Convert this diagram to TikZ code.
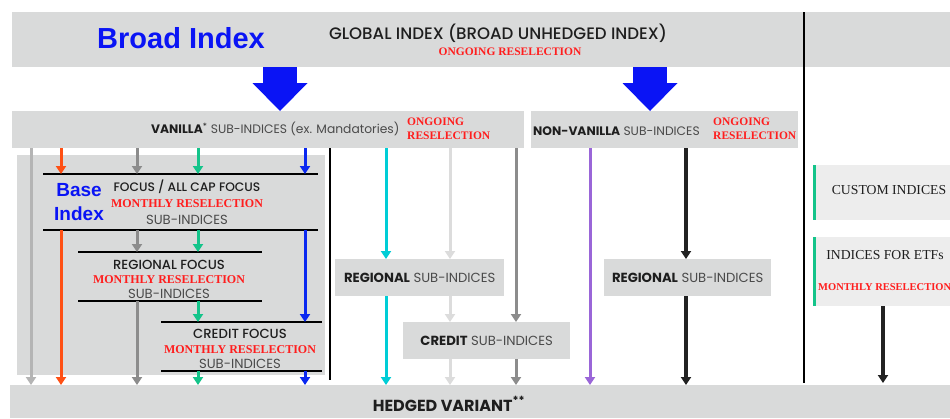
\documentclass[tikz,border=0pt]{standalone}
\usepackage{fontspec}
\setmainfont{Liberation Serif}
\setsansfont{Poppins}
\newfontfamily\arialfont{Liberation Sans}
\newfontfamily\medfont{Poppins Medium}
\usetikzlibrary{positioning,arrows.meta,calc}

\definecolor{bandgray}{HTML}{D9DADA}
\definecolor{lightbox}{HTML}{EDEDED}
\definecolor{selred}{HTML}{FF1E1E}
\definecolor{idxblue}{HTML}{0A14F5}
\definecolor{inkblack}{HTML}{1E1E1E}
\definecolor{inkgray}{HTML}{4A4A4A}
\definecolor{arrorange}{HTML}{FF5014}
\definecolor{arrgreen}{HTML}{14C48A}
\definecolor{arrblue}{HTML}{0A28F0}
\definecolor{arrcyan}{HTML}{00CDD6}
\definecolor{arrpurple}{HTML}{9A66D8}
\definecolor{midgray}{HTML}{8C8C8C}
\definecolor{palegray}{HTML}{B4B4B4}
\definecolor{whitegray}{HTML}{DCDCDC}
\definecolor{darkline}{HTML}{222222}

\newcommand{\monthlyresel}{{\rmfamily\bfseries\fontsize{12}{14}\selectfont\color{selred}MONTHLY RESELECTION}}
\newcommand{\subidx}{\textcolor{inkgray}{SUB-INDICES}}

\tikzset{
  band/.style={fill=bandgray, inner sep=0pt, anchor=north west},
  sidebox/.style={fill=lightbox, inner sep=0pt, anchor=north west},
  frame/.style={inner sep=0pt, anchor=north west},
  rule/.style={line width=2pt, black},
  arr/.style={line width=3pt, -{Triangle[length=8pt, width=10pt]}},
  bigarr/.style={idxblue, line width=34pt, -{Triangle[length=28pt, width=55pt, line width=0pt]}},
  sans/.style={font=\sffamily\fontsize{12.3}{15}\selectfont, text=inkblack},
  boxtxt/.style={font=\sffamily\fontsize{13.2}{15}\selectfont, text=inkblack},
  grouptxt/.style={text=inkblack, align=center},
  redtxt/.style={font=\rmfamily\bfseries\fontsize{11.5}{14}\selectfont, text=selred, align=left},
  serifbox/.style={font=\rmfamily\fontsize{13.7}{16}\selectfont, text=inkblack}
}

\begin{document}
\begin{tikzpicture}[x=1pt, y=-1pt]
  \useasboundingbox[fill=white] (0,0) rectangle (950,418);

  % Bands
  \node[band, minimum width=938pt, minimum height=55pt] (global) at (12,12) {};
  \node[band, minimum width=512pt, minimum height=37pt] (vanilla) at (12,111) {};
  \node[band, minimum width=267pt, minimum height=37pt] (nonvan) at (531,111) {};
  \node[band, minimum width=308pt, minimum height=220pt] (base) at (17,155) {};
  \node[band, minimum width=940pt, minimum height=33pt] (hedged) at (10,385) {};

  % Global index text
  \node[font=\arialfont\bfseries\fontsize{29}{30}\selectfont, text=idxblue] (broadlbl) at (181,38) {Broad Index};
  \node[font=\medfont\fontsize{16.6}{18}\selectfont, text=inkblack] (globaltxt) at (498,33) {GLOBAL INDEX (BROAD UNHEDGED INDEX)};
  \node[redtxt] (globalresel) at (510,52) {ONGOING RESELECTION};

  % Big arrows
  \coordinate (bigA) at (280,0);
  \coordinate (bigB) at (650,0);
  \draw[bigarr] (global.south -| bigA) -- (vanilla.north -| bigA);
  \draw[bigarr] (global.south -| bigB) -- (nonvan.north -| bigB);

  % Sub-index bars text
  \node[sans, anchor=east] (vantxt) at (403,129) {\textbf{VANILLA}\textsuperscript{*} \textcolor{inkgray}{SUB-INDICES (ex. Mandatories)}};
  \node[redtxt, anchor=west, inner sep=0pt] (vanresel) at (407,129) {ONGOING\\RESELECTION};
  \node[sans, anchor=west, inner sep=0pt] (nvtxt) at (533,131) {\textbf{NON-VANILLA} \textcolor{inkgray}{SUB-INDICES}};
  \node[redtxt, anchor=west, inner sep=0pt] (nvresel) at (713,129) {ONGOING\\RESELECTION};

  % Dividers
  \coordinate (divR) at (804,0);
  \coordinate (divM) at (330,0);
  \draw[line width=2pt, black] (global.north -| divR) -- ($(hedged.north -| divR)+(0,-2)$);
  \draw[line width=1.5pt, black] (vanilla.south -| divM) -- ($(hedged.north -| divM)+(0,-5)$);

  % Base index groups
  \node[frame, minimum width=275pt, minimum height=56pt] (focus) at (43,174) {};
  \node[frame, minimum width=184pt, minimum height=49pt] (regfocus) at (78,252) {};
  \node[frame, minimum width=161pt, minimum height=49pt] (credfocus) at (161,322) {};
  \foreach \g in {focus, regfocus, credfocus} {
    \draw[rule] (\g.north west) -- (\g.north east);
    \draw[rule] (\g.south west) -- (\g.south east);
  }
  \node[grouptxt, font=\sffamily\fontsize{13.2}{16.5}\selectfont] (focustxt) at (187,202) {{\medfont\fontsize{12.3}{16.5}\selectfont FOCUS / ALL CAP FOCUS}\\ \monthlyresel\\ \subidx};
  \node[grouptxt, font=\sffamily\fontsize{13.2}{14.5}\selectfont] (regfocustxt) at (169,279) {{\medfont REGIONAL FOCUS}\\ \monthlyresel\\ \subidx};
  \node[grouptxt, font=\sffamily\fontsize{13.2}{15}\selectfont] (credfocustxt) at (240,349) {{\medfont CREDIT FOCUS}\\ \monthlyresel\\ \subidx};
  \node[font=\arialfont\bfseries\fontsize{19}{24}\selectfont, text=idxblue, align=center] (baselbl) at (79,202) {Base\\Index};

  % Middle and right boxes
  \node[band, minimum width=169pt, minimum height=37pt, boxtxt] (regmid) at (335,259) {\textbf{REGIONAL} \textcolor{inkgray}{SUB-INDICES}};
  \node[band, minimum width=167pt, minimum height=37pt, boxtxt] (credmid) at (403,322) {\textbf{CREDIT} \textcolor{inkgray}{SUB-INDICES}};
  \node[band, minimum width=167pt, minimum height=37pt, boxtxt] (regnv) at (604,259) {\textbf{REGIONAL} \textcolor{inkgray}{SUB-INDICES}};
  \node[sidebox, minimum width=137pt, minimum height=55pt] (custom) at (813,165) {};
  \node[sidebox, minimum width=137pt, minimum height=69pt] (etfs) at (813,237) {};
  \draw[arrgreen, line width=3pt] ($(custom.north west)+(1.5,0)$) -- ($(custom.south west)+(1.5,0)$);
  \draw[arrgreen, line width=3pt] ($(etfs.north west)+(1.5,0)$) -- ($(etfs.south west)+(1.5,0)$);
  \node[serifbox] (customtxt) at (889,190) {CUSTOM INDICES};
  \node[serifbox] (etfstxt) at (885,255) {INDICES FOR ETFs};
  \node[redtxt, font=\rmfamily\bfseries\fontsize{10.5}{13}\selectfont, anchor=west, inner sep=0pt] (etfsresel) at (818,287) {MONTHLY RESELECTION};

  % Hedged variant
  \node[font=\sffamily\bfseries\fontsize{16}{18}\selectfont, text=inkblack] (hedgedtxt) at (449,404) {HEDGED VARIANT\textsuperscript{**}};

  % Arrow columns
  \coordinate (cA) at (31,0);
  \coordinate (cB) at (61,0);
  \coordinate (cC) at (137,0);
  \coordinate (cD) at (198,0);
  \coordinate (cE) at (305,0);
  \coordinate (cF) at (386,0);
  \coordinate (cG) at (450,0);
  \coordinate (cH) at (516,0);
  \coordinate (cI) at (590,0);
  \coordinate (cJ) at (686,0);
  \coordinate (cK) at (883,0);

  \draw[arr, palegray] (vanilla.south -| cA) -- (hedged.north -| cA);
  \draw[arr, arrorange] (vanilla.south -| cB) -- (focus.north -| cB);
  \draw[arr, arrorange] (focus.south -| cB) -- (hedged.north -| cB);
  \draw[arr, midgray] (vanilla.south -| cC) -- (focus.north -| cC);
  \draw[arr, midgray] (focus.south -| cC) -- (regfocus.north -| cC);
  \draw[arr, midgray] (regfocus.south -| cC) -- (hedged.north -| cC);
  \draw[arr, arrgreen] (vanilla.south -| cD) -- (focus.north -| cD);
  \draw[arr, arrgreen] (focus.south -| cD) -- (regfocus.north -| cD);
  \draw[arr, arrgreen] (regfocus.south -| cD) -- (credfocus.north -| cD);
  \draw[arr, arrgreen] (credfocus.south -| cD) -- (hedged.north -| cD);
  \draw[arr, arrblue] (vanilla.south -| cE) -- (focus.north -| cE);
  \draw[arr, arrblue] (focus.south -| cE) -- (credfocus.north -| cE);
  \draw[arr, arrblue] (credfocus.south -| cE) -- (hedged.north -| cE);

  \draw[arr, arrcyan] (vanilla.south -| cF) -- (regmid.north -| cF);
  \draw[arr, arrcyan] (regmid.south -| cF) -- (hedged.north -| cF);
  \draw[arr, whitegray] (vanilla.south -| cG) -- (regmid.north -| cG);
  \draw[arr, whitegray] (regmid.south -| cG) -- (credmid.north -| cG);
  \draw[arr, whitegray] (credmid.south -| cG) -- (hedged.north -| cG);
  \draw[arr, midgray] (vanilla.south -| cH) -- (credmid.north -| cH);
  \draw[arr, midgray] (credmid.south -| cH) -- (hedged.north -| cH);

  \draw[arr, arrpurple] (nonvan.south -| cI) -- (hedged.north -| cI);
  \draw[arr, darkline, line width=4pt] (nonvan.south -| cJ) -- (regnv.north -| cJ);
  \draw[arr, darkline, line width=4pt] (regnv.south -| cJ) -- (hedged.north -| cJ);
  \draw[arr, darkline, line width=4pt] (etfs.south -| cK) -- ($(hedged.north -| cK)+(0,-2)$);
\end{tikzpicture}
\end{document}
